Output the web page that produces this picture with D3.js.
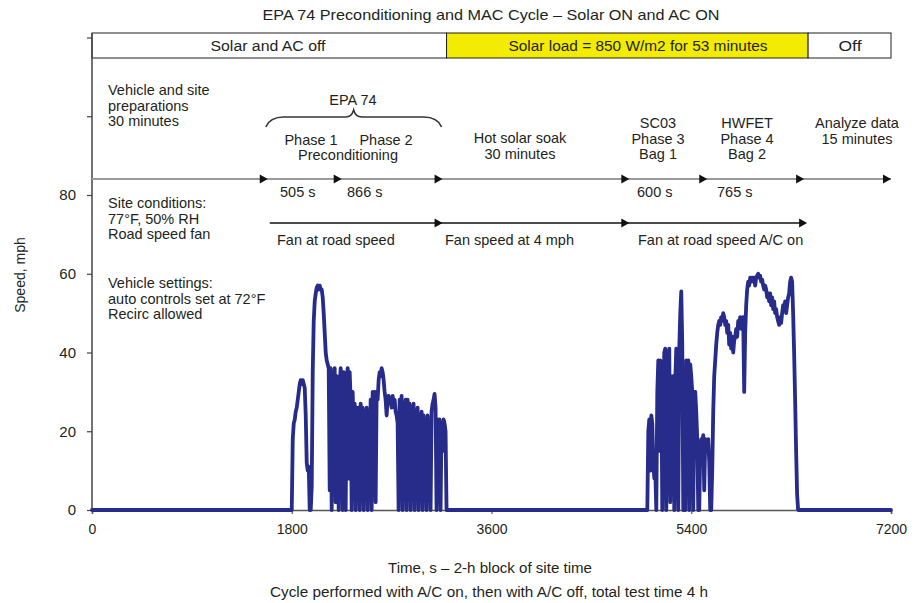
<!DOCTYPE html>
<html>
<head>
<meta charset="utf-8">
<script src="https://cdn.jsdelivr.net/npm/d3@7"></script>
<style>
  html, body { margin: 0; padding: 0; background: #fff; }
  svg { display: block; }
</style>
</head>
<body>
<svg id="chart" width="922" height="603"></svg>
<script>
// ---------------- DATA ----------------
const xTicks = [0, 1800, 3600, 5400, 7200];
const yTicks = [0, 20, 40, 60, 80, 100, 120];
const yTickLabels = ["0", "20", "40", "60", "80", "", ""];

// speed trace sampled every 9 s (mph)
const sampleStepSec = 9;
const block1StartSec = 1782;
const block1Speed = [0,0,0,18,22,23,25,26,28,30,32,33,32,33,32,31,24,12,10,11,0,0,6,35,48,53,55,56.5,57,56,57,56,56,54,50,45,40,38,37,36,5,36,0,35,30,36,2,34,31,0,32,36,31,0,35,30,0,33,36,8,35,28,0,30,20,27,0,26,5,26,0,27,20,26,0,25,3,26,0,25,10,28,0,30,27,30,2,30,28,33,35,34,36,35,33,30,28,24,28,29,27,28,26,29,27,28,25,24,22,0,28,5,29,0,27,10,28,0,28,20,27,0,26,8,27,0,25,22,26,0,24,5,25,0,24,18,23,0,24,10,22,0,25,27,28,29.5,26,0,23,12,23,0,22,15,23,22,20,0,0];
const block2StartSec = 4995;
const block2Speed = [0,0,20,23,10,24,22,12,8,10,0,30,38,15,38,36,0,30,40,41,0,40,38,41,2,34,32,34,0,33,41,40,0,41,50,55.5,42,0,30,0,38,36,38,0,37,34,30,0,29,30,25,18,0,0,15,18,17,19,5,18,17,16,18,12,0,0,10,25,34,38,42,45,47,48,47,49,48,50,49,47,48,45,47,42,45,41,44,40,43,44,46,44,48,47,49,46,48,49,30,45,52,56,58,57,59,58,59,58,59,57,59,59.5,60,59,59.5,58,58.5,57,56,57,56,54,55,53,55,52,54,51,53,50,51,49,48,47,49,47.5,50,52,51,53,50,52,54,55,58,59,58,50,40,28,15,4,0,0];

// timeline annotations (seconds on the schematic)
const phaseArrowsSec = [1584, 2250, 3159, 4842, 5544, 6417, 7200];
const fanLineStartSec = 1602;
const fanArrowsSec = [3159, 4842, 6444];
const solarBand = [
  {label: "Solar and AC off", from: 0, to: 3195, fill: "#ffffff"},
  {label: "Solar load = 850 W/m2 for 53 minutes", from: 3195, to: 6453, fill: "#f3ec00"},
  {label: "Off", from: 6453, to: 7200, fill: "#ffffff"}
];

// ---------------- BUILD ----------------
const series = [[0, 0]];
block1Speed.forEach((v, i) => series.push([block1StartSec + i * sampleStepSec, v]));
block2Speed.forEach((v, i) => series.push([block2StartSec + i * sampleStepSec, v]));
series.push([7200, 0]);

const svg = d3.select("#chart");
const x = d3.scaleLinear().domain([0, 7200]).range([92, 891]);
const y = d3.scaleLinear().domain([0, 120]).range([510, 37.5]);

const regular = "'Liberation Sans', Arial, Helvetica, sans-serif";
const narrow = "'Liberation Sans Narrow', 'Arial Narrow', 'Liberation Sans', sans-serif";
const ink = "#231f20";

function narrowText(t, cx, by, w, size) {
  svg.append("text").attr("x", cx).attr("y", by)
    .attr("text-anchor", "middle").attr("font-family", narrow)
    .attr("font-size", size).attr("fill", ink)
    .attr("textLength", w).attr("lengthAdjust", "spacingAndGlyphs")
    .text(t);
}

// title
narrowText("EPA 74 Preconditioning and MAC Cycle \u2013 Solar ON and AC ON", 491, 20, 457, 15);

// solar band
solarBand.forEach(b => {
  svg.append("rect").attr("x", x(b.from)).attr("y", 33)
    .attr("width", x(b.to) - x(b.from)).attr("height", 25)
    .attr("fill", b.fill).attr("stroke", ink).attr("stroke-width", 1);
});
narrowText(solarBand[0].label, 268, 51, 115, 14);
narrowText(solarBand[1].label, 638, 51, 259, 14);
narrowText(solarBand[2].label, 850, 51, 23, 14);

// axes
const yAxis = d3.axisLeft(y).tickValues(yTicks).tickSize(5).tickPadding(11)
  .tickFormat((d, i) => yTickLabels[i]);
const gy = svg.append("g").attr("transform", "translate(92,0)").call(yAxis);
gy.select(".domain").attr("d", "M0,510V33").attr("stroke", "#444").attr("stroke-width", 1.5);
gy.selectAll(".tick line").attr("stroke", "#444").attr("stroke-width", 1.2);
gy.selectAll(".tick text").attr("font-family", regular).attr("font-size", 15).attr("fill", ink);

const xAxis = d3.axisBottom(x).tickValues(xTicks).tickSize(4).tickPadding(10)
  .tickFormat(d3.format("d"));
const gx = svg.append("g").attr("transform", "translate(0,510)").call(xAxis);
gx.select(".domain").attr("stroke", "#555").attr("stroke-width", 1.5);
gx.selectAll(".tick line").attr("stroke", "#555").attr("stroke-width", 1.2);
gx.selectAll(".tick text").attr("font-family", narrow).attr("font-size", 14).attr("fill", ink);

// axis titles
svg.append("text").attr("transform", "translate(25,275) rotate(-90)")
  .attr("text-anchor", "middle").attr("font-family", regular).attr("font-size", 14)
  .attr("fill", ink).text("Speed, mph");
narrowText("Time, s \u2013 2-h block of site time", 490, 573, 204, 14);
narrowText("Cycle performed with A/C on, then with A/C off, total test time 4 h", 489, 597, 438, 14);

// arrow marker helper
function arrowHead(px, py) {
  svg.append("path").attr("d", `M${px},${py}l-8,-4.5v9z`).attr("fill", "#111");
}

// grey phase timeline
svg.append("line").attr("x1", x(0)).attr("x2", x(7200)).attr("y1", 179).attr("y2", 179)
  .attr("stroke", "#9a9a9a").attr("stroke-width", 2);
phaseArrowsSec.forEach(s => arrowHead(x(s), 179));

// fan timeline
svg.append("line").attr("x1", x(fanLineStartSec)).attr("x2", x(fanArrowsSec[2]) - 2)
  .attr("y1", 223).attr("y2", 223).attr("stroke", "#111").attr("stroke-width", 1.6);
fanArrowsSec.forEach(s => arrowHead(x(s), 223));

// EPA 74 brace
const bl = x(phaseArrowsSec[0]) - 2, br = x(phaseArrowsSec[2]) - 1, bm = (bl + br) / 2;
svg.append("path")
  .attr("d", `M${bl},127 Q${bl + 4},117 ${bl + 18},117 L${bm - 8},117 Q${bm - 2},117 ${bm},110 Q${bm + 2},117 ${bm + 8},117 L${br - 18},117 Q${br - 4},117 ${br},127`)
  .attr("fill", "none").attr("stroke", "#333").attr("stroke-width", 1.6);

// annotation texts
function lines(arr, px, py, anchor, lh) {
  const t = svg.append("text").attr("font-family", regular).attr("font-size", 14.5)
    .attr("fill", ink).attr("text-anchor", anchor);
  arr.forEach((s, i) => t.append("tspan").attr("x", px).attr("y", py + i * lh).text(s));
}
lines(["Vehicle and site", "preparations", "30 minutes"], 108, 95, "start", 15.5);
lines(["EPA 74"], 353, 105, "middle", 15.5);
lines(["Phase 1"], 311, 145, "middle", 15.5);
lines(["Phase 2"], 386, 145, "middle", 15.5);
lines(["Preconditioning"], 348, 160, "middle", 15.5);
lines(["Hot solar soak", "30 minutes"], 520, 143, "middle", 15.5);
lines(["SC03", "Phase 3", "Bag 1"], 658, 128, "middle", 15.5);
lines(["HWFET", "Phase 4", "Bag 2"], 747, 128, "middle", 15.5);
lines(["Analyze data", "15 minutes"], 857, 128, "middle", 15.5);
lines(["505 s"], 280, 197, "start", 15.5);
lines(["866 s"], 347, 197, "start", 15.5);
lines(["600 s"], 637, 197, "start", 15.5);
lines(["765 s"], 717, 197, "start", 15.5);
lines(["Site conditions:", "77\u00b0F, 50% RH", "Road speed fan"], 108, 208, "start", 15.5);
lines(["Fan at road speed"], 277, 245, "start", 15.5);
lines(["Fan speed at 4 mph"], 445, 245, "start", 15.5);
lines(["Fan at road speed A/C on"], 638, 245, "start", 15.5);
lines(["Vehicle settings:", "auto controls set at 72\u00b0F", "Recirc allowed"], 108, 288, "start", 15.5);

// speed trace
svg.append("path").datum(series)
  .attr("d", d3.line().x(d => x(d[0])).y(d => y(d[1])))
  .attr("fill", "none").attr("stroke", "#272b8a").attr("stroke-width", 3.8)
  .attr("stroke-linejoin", "round").attr("stroke-linecap", "round");
</script>
</body>
</html>
